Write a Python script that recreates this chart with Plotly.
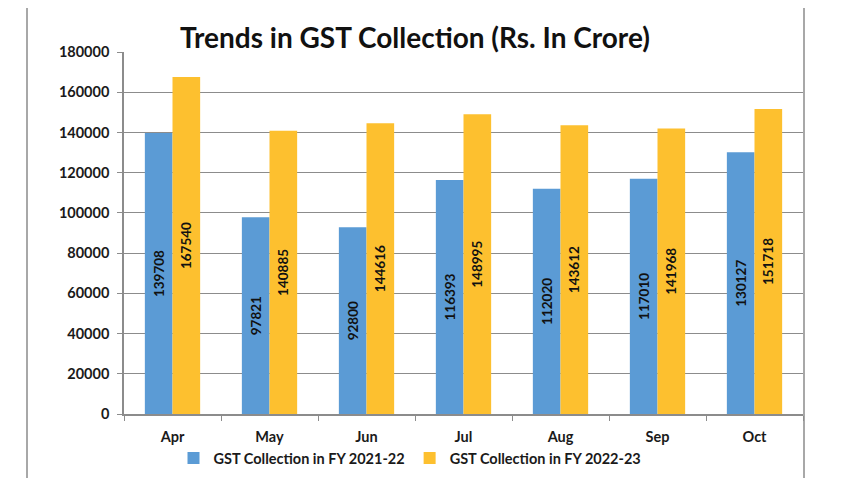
import plotly.graph_objects as go

months = ["Apr", "May", "Jun", "Jul", "Aug", "Sep", "Oct"]
fy2122 = [139708, 97821, 92800, 116393, 112020, 117010, 130127]
fy2223 = [167540, 140885, 144616, 148995, 143612, 141968, 151718]
series_names = ["GST Collection in FY 2021-22", "GST Collection in FY 2022-23"]
y_ticks = list(range(0, 180001, 20000))

FONT = "Lato"
fig = go.Figure()
for name, vals, color in [(series_names[0], fy2122, "#5B9BD5"), (series_names[1], fy2223, "#FDC02F")]:
    fig.add_trace(go.Bar(
        x=months, y=vals, name=name, marker=dict(color=color, line=dict(width=0)),
        text=[str(v) for v in vals], textposition="inside", insidetextanchor="middle",
        textangle=-90, constraintext="none",
        textfont=dict(family=FONT, size=13.5, color="#111111", weight="bold"),
    ))

# page has an 8px body margin; figure is sized to fit the 850x478 window
OFF = 8
W, H = 850 - OFF, 478 - OFF
L, R, T, B = 124 - OFF, 47, 52 - OFF, 64
pw, ph = W - L - R, H - T - B

def px(x):
    return (x - OFF - L) / pw

def py(y):
    return (H - B - (y - OFF)) / ph

fig.update_layout(
    template="none",
    width=W, height=H,
    margin=dict(l=L, r=R, t=T, b=B, pad=0),
    paper_bgcolor="white", plot_bgcolor="white",
    barmode="group", bargap=0.43, bargroupgap=0,
    font=dict(family=FONT, color="#1a1a1a"),
    title=dict(text="<b>Trends in GST Collection (Rs. In Crore)</b>", x=px(415), xref="paper",
               xanchor="center", y=1 - (38 - OFF) / H, yref="container", yanchor="middle",
               font=dict(family=FONT, size=28, color="#111111")),
    showlegend=True,
    legend=dict(orientation="h", xref="container", yref="container",
                x=(410 - OFF) / W, xanchor="center", y=1 - (458 - OFF) / H, yanchor="middle",
                font=dict(family=FONT, size=14.5, color="#1a1a1a", weight="bold"),
                itemwidth=30, traceorder="normal", bgcolor="rgba(0,0,0,0)"),
    xaxis=dict(showline=True, linecolor="#8c8c8c", linewidth=1.5, ticks="outside",
               tickson="boundaries", ticklen=5, tickcolor="#8c8c8c", automargin=False,
               ticklabelstandoff=9,
               tickfont=dict(family=FONT, size=14.5, color="#1a1a1a", weight="bold"),
               showgrid=False),
    yaxis=dict(range=[0, 180000], tickvals=y_ticks, tickformat="d", showline=True,
               linecolor="#8c8c8c", linewidth=1.5, ticks="outside", ticklen=5,
               tickcolor="#8c8c8c", gridcolor="#8c8c8c", gridwidth=1.2, automargin=False,
               ticklabelstandoff=5,
               tickfont=dict(family=FONT, size=14.5, color="#1a1a1a", weight="bold"),
               zeroline=False),
)

fig.add_shape(type="rect", xref="paper", yref="paper",
              x0=px(27), x1=px(804), y0=py(490), y1=py(7),
              line=dict(color="#8c8c8c", width=1.5), fillcolor="rgba(0,0,0,0)", layer="below")

fig.write_html("out.html")
